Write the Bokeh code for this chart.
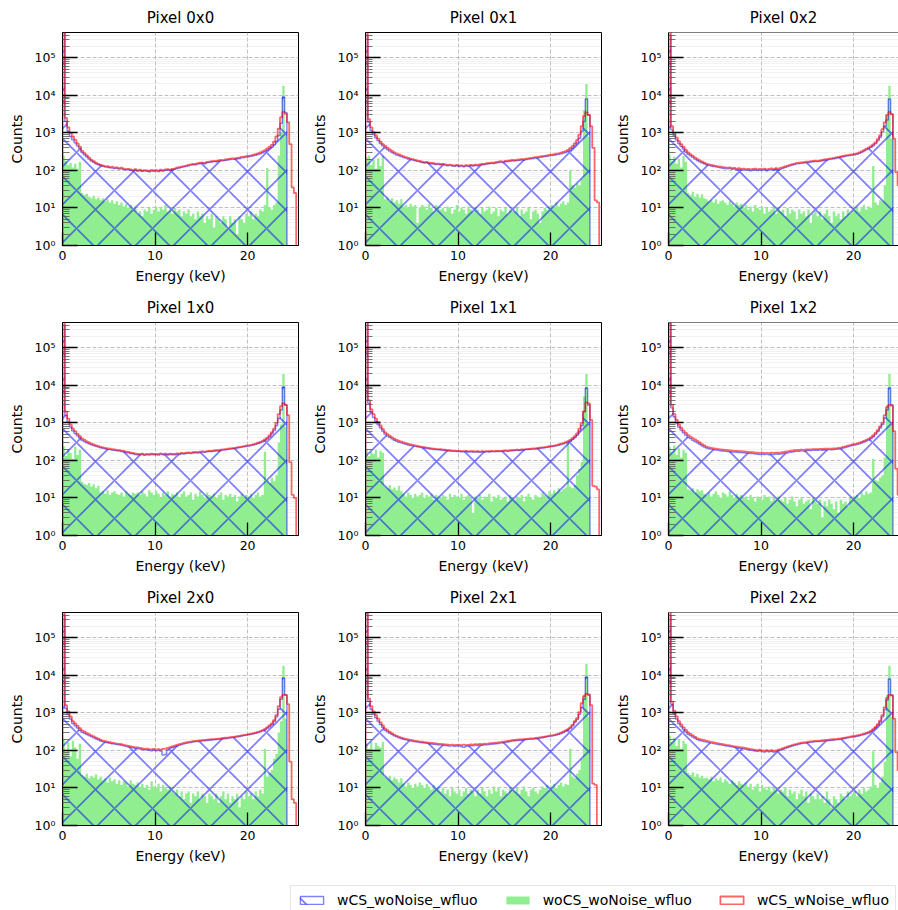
from bokeh.plotting import figure
from bokeh.layouts import column, row
from bokeh.models import (Range1d, FixedTicker, CustomJSTickFormatter, Legend,
                          LegendItem, Span)
from bokeh.embed import file_html
from bokeh.resources import INLINE

# ---------------- data (counts per 0.25 keV bin, starting at 0 keV) ----------------
BIN_KEV = 0.25
PIXELS = ["0x0", "0x1", "0x2", "1x0", "1x1", "1x2", "2x0", "2x1", "2x2"]
SERIES_LABELS = ["wCS_woNoise_wfluo", "woCS_woNoise_wfluo", "wCS_wNoise_wfluo"]
X_TICKS = [0, 10, 20]
Y_TICK_EXPONENTS = [0, 1, 2, 3, 4, 5]

# ---- Pixel 0x0
red_0x0 = [1000000, 2500, 1400, 1000, 800, 650, 520, 430,
           330, 290, 250, 220, 190, 175, 160, 150,
           140, 135, 128, 130, 122, 125, 118, 120, 115, 118, 112, 108, 110, 106, 102, 108,
           100, 104, 98, 102, 100, 97, 103, 100, 102, 99, 104, 101, 106, 108, 104, 110,
           112, 118, 122, 126, 130, 134, 140, 145, 150, 148, 155, 160, 162, 158, 168, 172,
           175, 180, 178, 185, 190, 188, 195, 200, 205, 210, 208, 215, 220, 228, 232, 238,
           245, 250, 262, 270, 285, 300, 320, 345, 380, 420, 480, 580, 800, 1300,
           2600, 3600, 3200, 1900, 500, 35, 25, 0]
blue_0x0 = [500000, 2000, 1100, 800, 650, 540, 450, 380,
            300, 260, 230, 200, 178, 165, 150, 142,
            135, 128, 124, 120, 118, 115, 112, 114, 108, 110, 105, 103, 104, 100, 98, 101,
            96, 98, 94, 97, 95, 92, 96, 94, 97, 93, 98, 96, 100, 102, 99, 104,
            107, 112, 116, 120, 124, 128, 133, 138, 142, 140, 147, 152, 155, 150, 160, 164,
            167, 171, 170, 176, 180, 179, 185, 190, 195, 199, 198, 204, 208, 215, 220, 225,
            230, 236, 245, 252, 265, 278, 295, 315, 345, 380, 420, 480, 600, 850,
            1800, 9000, 3500]
green_0x0 = [250, 180, 140, 160, 120, 150, 110, 170,
             25, 22, 24, 20, 18, 21, 17, 19,
             16, 18, 15, 17, 14, 16, 13, 15, 12, 14, 11, 13, 10, 12, 9, 11,
             7, 8, 6, 9, 8, 10, 7, 9, 11, 8, 10, 9, 12, 8, 9, 7,
             10, 8, 9, 6, 8, 7, 9, 6, 7, 5, 8, 6, 7, 4, 6, 5,
             7, 3, 6, 5, 4, 6, 5, 3, 6, 4, 5, 2, 6, 5, 4, 7,
             6, 8, 5, 7, 6, 9, 8, 12, 115, 10, 9, 12, 14, 250,
             1000, 18000, 900]

# ---- Pixel 0x1
red_0x1 = [800000, 2300, 1400, 1050, 850, 700, 580, 500,
           450, 400, 360, 330, 300, 280, 265, 250,
           235, 225, 215, 205, 198, 190, 182, 178, 170, 165, 168, 160, 158, 155, 150, 152,
           148, 150, 145, 140, 142, 138, 135, 140, 134, 136, 132, 138, 135, 140, 137, 142,
           140, 145, 148, 150, 155, 158, 162, 160, 166, 170, 175, 172, 178, 182, 185, 190,
           188, 192, 195, 200, 198, 205, 210, 215, 220, 225, 228, 235, 240, 245, 252, 258,
           262, 270, 278, 285, 295, 310, 325, 350, 390, 440, 520, 640, 900, 1500,
           2800, 3500, 3000, 1500, 400, 16, 14, 0]
blue_0x1 = [400000, 1900, 1150, 900, 740, 620, 520, 450,
            400, 360, 325, 300, 275, 258, 245, 232,
            220, 212, 202, 194, 188, 180, 174, 170, 162, 158, 160, 152, 150, 148, 143, 145,
            141, 143, 138, 133, 136, 131, 128, 133, 127, 130, 125, 131, 128, 133, 130, 135,
            133, 138, 141, 143, 148, 150, 154, 152, 158, 162, 166, 163, 169, 173, 176, 180,
            178, 182, 185, 190, 188, 194, 199, 204, 208, 213, 216, 222, 227, 232, 238, 243,
            247, 254, 261, 267, 276, 288, 300, 320, 350, 390, 450, 540, 720, 1100,
            2000, 8000, 3000]
green_0x1 = [220, 250, 140, 190, 110, 210, 130, 240,
             17, 19, 15, 18, 14, 16, 13, 17,
             11, 12, 10, 13, 11, 12, 4, 10, 12, 11, 9, 13, 10, 8, 12, 11,
             9, 10, 8, 11, 10, 7, 9, 12, 8, 10, 9, 7, 11, 9, 8, 10,
             9, 7, 10, 8, 9, 11, 7, 8, 10, 6, 9, 8, 10, 7, 9, 8,
             8, 10, 6, 9, 7, 8, 10, 5, 8, 9, 7, 4, 8, 10, 9, 11,
             12, 10, 14, 11, 13, 15, 12, 14, 100, 40, 35, 45, 40, 60,
             4000, 20000, 800]

# ---- Pixel 0x2
red_0x2 = [800000, 1500, 1000, 750, 600, 500, 420, 350,
           300, 270, 245, 220, 200, 185, 172, 160,
           150, 145, 140, 135, 132, 128, 125, 122, 120, 118, 121, 115, 117, 112, 114, 110,
           111, 108, 110, 106, 109, 112, 107, 110, 108, 112, 106, 110, 113, 109, 115, 112,
           116, 122, 128, 134, 140, 146, 152, 158, 160, 163, 166, 170, 172, 175, 178, 182,
           180, 185, 190, 195, 200, 205, 210, 215, 222, 230, 236, 242, 250, 256, 262, 268,
           275, 285, 300, 320, 345, 375, 405, 440, 490, 560, 680, 850, 1250, 1900,
           3000, 3600, 3100, 700, 90, 40, 30, 0]
blue_0x2 = [400000, 1200, 850, 650, 520, 440, 370, 310,
            270, 245, 222, 200, 184, 170, 160, 150,
            141, 136, 131, 127, 124, 120, 117, 114, 112, 110, 113, 107, 109, 104, 106, 102,
            103, 100, 102, 98, 101, 104, 99, 102, 100, 104, 98, 102, 105, 101, 107, 104,
            108, 114, 120, 126, 132, 138, 143, 149, 151, 154, 157, 161, 163, 166, 169, 173,
            171, 176, 181, 186, 190, 195, 200, 205, 211, 218, 224, 230, 237, 243, 249, 255,
            261, 270, 284, 302, 325, 352, 380, 410, 455, 515, 620, 760, 1050, 1500,
            2200, 8000, 3200]
green_0x2 = [260, 180, 230, 150, 200, 120, 240, 170,
             25, 22, 27, 20, 24, 19, 23, 18,
             17, 15, 16, 14, 17, 13, 15, 16, 14, 12, 15, 13, 11, 14, 12, 13,
             10, 12, 9, 11, 8, 12, 10, 9, 11, 7, 10, 8, 9, 11, 7, 10,
             8, 9, 6, 10, 7, 9, 8, 5, 9, 7, 8, 6, 9, 4, 7, 8,
             6, 8, 5, 7, 9, 6, 4, 8, 6, 7, 5, 8, 6, 9, 7, 8,
             9, 11, 8, 10, 12, 9, 11, 10, 130, 14, 12, 16, 15, 40,
             3000, 18000, 700]

# ---- Pixel 1x0
red_1x0 = [800000, 2000, 1300, 900, 700, 600, 510, 440,
           380, 350, 320, 300, 280, 265, 252, 240,
           230, 222, 215, 208, 204, 198, 195, 190, 188, 182, 178, 172, 168, 160, 158, 152,
           150, 148, 152, 145, 150, 147, 152, 148, 150, 146, 153, 149, 151, 147, 152, 150,
           150, 154, 152, 158, 156, 160, 163, 161, 165, 168, 166, 171, 174, 172, 177, 180,
           180, 184, 188, 186, 192, 196, 200, 204, 208, 212, 216, 222, 228, 234, 240, 246,
           250, 258, 268, 280, 295, 310, 330, 360, 400, 460, 560, 700, 1000, 1700,
           2800, 3300, 3000, 1600, 90, 12, 10, 0]
blue_1x0 = [400000, 1600, 1050, 770, 610, 520, 450, 395,
            345, 320, 295, 278, 262, 248, 237, 226,
            217, 210, 204, 197, 193, 188, 185, 180, 178, 172, 169, 163, 159, 152, 150, 144,
            142, 140, 144, 137, 142, 139, 144, 140, 142, 138, 145, 141, 143, 139, 144, 142,
            142, 146, 144, 150, 148, 152, 155, 153, 157, 160, 158, 163, 166, 164, 169, 172,
            172, 176, 180, 178, 184, 188, 192, 196, 200, 204, 208, 213, 219, 225, 231, 237,
            240, 247, 256, 267, 281, 295, 312, 338, 372, 425, 510, 630, 850, 1300,
            2200, 9000, 3000]
green_1x0 = [240, 130, 200, 160, 110, 230, 140, 190,
             27, 24, 22, 25, 20, 23, 18, 21,
             14, 15, 13, 16, 12, 14, 15, 13, 12, 14, 11, 15, 13, 12, 14, 13,
             14, 12, 15, 13, 11, 16, 14, 12, 15, 13, 10, 14, 12, 15, 11, 13,
             12, 14, 10, 13, 15, 11, 12, 14, 9, 13, 11, 15, 12, 10, 14, 12,
             11, 13, 10, 12, 14, 9, 12, 11, 13, 10, 12, 8, 11, 13, 10, 12,
             11, 13, 10, 12, 14, 11, 12, 170, 30, 25, 35, 28, 40, 300,
             900, 20000, 800]

# ---- Pixel 1x1
red_1x1 = [1000000, 4000, 2300, 1700, 1300, 1050, 850, 680,
           560, 500, 450, 410, 375, 350, 330, 315,
           300, 288, 275, 265, 258, 250, 242, 236, 230, 225, 220, 215, 210, 205, 202, 200,
           198, 194, 192, 188, 186, 183, 181, 179, 180, 177, 176, 178, 174, 176, 175, 173,
           175, 172, 176, 174, 177, 175, 178, 176, 179, 180, 178, 182, 184, 183, 186, 188,
           190, 192, 191, 195, 197, 200, 202, 205, 208, 210, 214, 218, 222, 226, 232, 238,
           242, 248, 256, 265, 278, 290, 305, 325, 350, 390, 440, 520, 700, 1000,
           2000, 3500, 3300, 1200, 21, 20, 17, 0]
blue_1x1 = [500000, 3300, 1900, 1400, 1100, 900, 740, 600,
            500, 450, 410, 375, 345, 322, 305, 292,
            280, 270, 258, 249, 243, 236, 229, 223, 218, 213, 209, 204, 200, 195, 193, 191,
            189, 185, 184, 180, 178, 175, 174, 172, 173, 170, 169, 171, 167, 169, 168, 166,
            168, 165, 169, 167, 170, 168, 171, 169, 172, 173, 171, 175, 177, 176, 179, 181,
            183, 185, 184, 188, 190, 193, 195, 198, 200, 202, 206, 210, 213, 217, 222, 228,
            232, 237, 244, 252, 264, 275, 288, 305, 327, 362, 405, 470, 610, 850,
            2000, 8500, 3000]
green_1x1 = [200, 130, 170, 150, 190, 120, 180, 160,
             20, 18, 22, 17, 19, 16, 21, 15,
             13, 11, 14, 12, 10, 13, 11, 12, 14, 10, 12, 11, 13, 9, 12, 11,
             10, 12, 11, 9, 13, 10, 12, 11, 10, 13, 9, 11, 12, 10, 4, 11,
             10, 12, 9, 11, 10, 13, 8, 11, 10, 12, 9, 10, 11, 8, 12, 10,
             9, 11, 10, 12, 8, 11, 13, 10, 9, 12, 11, 10, 14, 12, 11, 15,
             13, 16, 14, 18, 15, 17, 19, 300, 20, 18, 22, 40, 60, 90,
             5000, 20000, 900]

# ---- Pixel 1x2
red_1x2 = [900000, 3000, 1700, 1200, 900, 740, 620, 540,
           470, 430, 390, 360, 330, 300, 270, 250,
           230, 222, 215, 210, 205, 200, 196, 192, 190, 187, 184, 182, 180, 178, 176, 175,
           174, 171, 169, 166, 165, 162, 160, 158, 160, 157, 159, 156, 161, 158, 162, 160,
           162, 166, 170, 174, 178, 182, 186, 188, 190, 193, 191, 195, 197, 196, 199, 200,
           200, 202, 201, 204, 205, 207, 206, 209, 210, 214, 220, 228, 236, 246, 256, 265,
           272, 282, 295, 310, 330, 350, 375, 410, 460, 540, 640, 800, 1000, 1600,
           2600, 3000, 2900, 600, 60, 12, 10, 0]
blue_1x2 = [450000, 2500, 1450, 1000, 770, 640, 540, 470,
            415, 380, 345, 320, 295, 270, 245, 228,
            212, 205, 199, 194, 190, 185, 181, 178, 176, 173, 170, 168, 166, 164, 162, 161,
            160, 157, 155, 152, 151, 148, 146, 144, 146, 143, 145, 142, 147, 144, 148, 146,
            148, 152, 156, 160, 164, 168, 172, 174, 176, 179, 177, 181, 183, 182, 185, 186,
            186, 188, 187, 190, 191, 193, 192, 195, 196, 200, 205, 213, 221, 230, 240, 249,
            255, 264, 276, 290, 308, 327, 350, 382, 428, 500, 590, 730, 900, 1350,
            2200, 8500, 3000]
green_1x2 = [230, 170, 250, 140, 210, 120, 190, 160,
             17, 16, 18, 14, 17, 15, 16, 13,
             12, 14, 11, 13, 15, 12, 10, 14, 13, 11, 15, 12, 10, 13, 11, 12,
             10, 11, 9, 12, 10, 8, 11, 10, 9, 12, 10, 11, 8, 10, 9, 11,
             9, 8, 10, 7, 9, 11, 8, 6, 9, 10, 7, 8, 9, 5, 10, 8,
             7, 9, 3, 8, 6, 9, 7, 5, 8, 4, 9, 7, 8, 6, 10, 9,
             11, 12, 10, 14, 12, 15, 13, 14, 110, 30, 28, 35, 40, 120,
             3000, 20000, 900]

# ---- Pixel 2x0
red_2x0 = [800000, 1600, 1100, 800, 600, 520, 450, 390,
           340, 315, 290, 270, 250, 235, 220, 205,
           190, 182, 176, 170, 165, 160, 156, 152, 150, 146, 140, 136, 132, 128, 124, 120,
           120, 116, 113, 110, 112, 108, 106, 110, 105, 108, 104, 110, 112, 116, 122, 128,
           134, 140, 146, 152, 158, 164, 168, 172, 176, 180, 182, 185, 188, 190, 193, 196,
           198, 200, 203, 206, 210, 214, 217, 220, 224, 228, 233, 238, 244, 250, 257, 264,
           270, 278, 286, 296, 310, 325, 345, 370, 410, 460, 520, 640, 870, 1500,
           2600, 3000, 3000, 1700, 50, 5, 4, 0]
blue_2x0 = [400000, 1300, 900, 680, 520, 450, 395, 345,
            305, 285, 265, 248, 232, 218, 205, 192,
            178, 171, 165, 160, 155, 150, 147, 143, 141, 137, 132, 128, 124, 120, 117, 113,
            112, 109, 106, 103, 104, 100, 98, 102, 97, 100, 96, 75, 78, 104, 113, 119,
            125, 131, 137, 143, 149, 155, 159, 163, 167, 171, 173, 176, 179, 181, 184, 187,
            189, 191, 194, 197, 201, 205, 208, 211, 215, 219, 224, 229, 235, 241, 248, 255,
            260, 268, 276, 285, 298, 312, 330, 352, 388, 432, 485, 590, 780, 1250,
            2300, 8500, 3000]
green_2x0 = [200, 90, 160, 70, 180, 120, 60, 150,
             22, 20, 24, 18, 21, 19, 23, 17,
             20, 16, 18, 14, 19, 15, 17, 13, 16, 12, 15, 14, 11, 16, 13, 12,
             14, 11, 13, 10, 12, 9, 15, 11, 10, 13, 8, 12, 10, 9, 11, 8,
             7, 9, 6, 8, 5, 7, 8, 4, 7, 6, 8, 5, 7, 6, 4, 7,
             6, 5, 7, 4, 6, 8, 5, 7, 4, 6, 5, 7, 3, 6, 5, 8,
             6, 7, 5, 8, 6, 9, 7, 110, 20, 25, 30, 60, 80, 300,
             600, 18000, 700]

# ---- Pixel 2x1
red_2x1 = [900000, 2400, 1500, 1100, 870, 700, 560, 460,
           380, 345, 310, 285, 260, 245, 230, 220,
           210, 203, 196, 190, 185, 180, 176, 172, 170, 167, 164, 160, 158, 155, 153, 150,
           150, 147, 145, 143, 140, 142, 138, 141, 140, 137, 143, 139, 141, 144, 142, 146,
           145, 148, 147, 151, 150, 154, 156, 158, 160, 163, 166, 170, 174, 178, 183, 187,
           190, 192, 195, 197, 200, 203, 206, 208, 210, 214, 218, 223, 228, 234, 240, 246,
           250, 258, 268, 280, 295, 315, 340, 370, 410, 480, 600, 720, 1050, 1800,
           2800, 3200, 3100, 1600, 13, 12, 0, 0]
blue_2x1 = [450000, 2000, 1250, 920, 740, 600, 490, 410,
            345, 315, 285, 264, 243, 229, 216, 207,
            198, 191, 185, 179, 175, 170, 166, 162, 160, 157, 154, 150, 148, 145, 143, 140,
            140, 137, 135, 133, 130, 132, 128, 131, 130, 127, 120, 129, 131, 134, 132, 136,
            135, 138, 137, 141, 140, 144, 146, 148, 150, 153, 156, 160, 164, 168, 173, 177,
            180, 182, 185, 187, 190, 193, 196, 198, 200, 204, 208, 213, 218, 224, 230, 236,
            240, 248, 257, 268, 282, 300, 322, 350, 385, 450, 560, 660, 920, 1400,
            2300, 9000, 3000]
green_2x1 = [150, 110, 170, 100, 160, 130, 120, 170,
             20, 18, 21, 16, 19, 17, 14, 18,
             13, 11, 14, 12, 10, 13, 11, 14, 12, 10, 13, 11, 9, 12, 10, 11,
             8, 10, 7, 9, 6, 10, 8, 7, 9, 6, 8, 10, 7, 9, 8, 6,
             9, 7, 10, 8, 6, 9, 7, 11, 8, 10, 6, 9, 8, 7, 10, 9,
             8, 10, 7, 9, 11, 8, 6, 9, 10, 8, 7, 9, 11, 10, 12, 9,
             11, 13, 10, 12, 14, 11, 13, 12, 110, 20, 18, 24, 30, 60,
             3000, 20000, 800]

# ---- Pixel 2x2
red_2x2 = [800000, 2000, 1150, 800, 600, 490, 410, 350,
           300, 275, 250, 230, 210, 200, 192, 186,
           180, 174, 168, 163, 158, 154, 150, 146, 142, 139, 136, 132, 128, 125, 122, 120,
           118, 114, 112, 108, 106, 103, 101, 104, 100, 98, 102, 99, 101, 97, 100, 104,
           108, 114, 120, 126, 132, 138, 145, 150, 155, 160, 163, 166, 170, 173, 176, 180,
           180, 182, 185, 188, 190, 192, 195, 198, 200, 204, 208, 214, 220, 226, 232, 238,
           242, 250, 258, 268, 280, 292, 305, 330, 370, 420, 500, 620, 870, 1400,
           2500, 3000, 2900, 700, 90, 30, 0, 0]
blue_2x2 = [400000, 1700, 950, 680, 520, 430, 360, 310,
            270, 248, 228, 210, 193, 184, 177, 171,
            166, 161, 156, 151, 147, 143, 140, 136, 133, 130, 127, 124, 120, 117, 114, 112,
            110, 107, 105, 101, 99, 96, 94, 97, 93, 91, 95, 92, 94, 90, 93, 97,
            101, 107, 113, 119, 125, 131, 137, 142, 147, 151, 154, 157, 161, 164, 167, 171,
            171, 173, 176, 179, 181, 183, 186, 189, 191, 195, 199, 205, 210, 216, 222, 228,
            231, 239, 246, 255, 266, 278, 290, 312, 348, 395, 465, 570, 780, 1200,
            2200, 8000, 3000]
green_2x2 = [250, 170, 220, 130, 200, 110, 180, 150,
             25, 22, 26, 20, 24, 19, 21, 18,
             19, 17, 20, 15, 18, 16, 19, 14, 17, 15, 13, 16, 14, 12, 15, 13,
             12, 14, 10, 13, 9, 11, 13, 8, 12, 10, 9, 11, 8, 10, 9, 7,
             9, 8, 10, 6, 9, 7, 8, 5, 7, 9, 6, 8, 4, 7, 6, 5,
             7, 5, 6, 4, 8, 5, 3, 6, 5, 4, 7, 6, 5, 8, 6, 7,
             8, 6, 9, 7, 10, 8, 9, 11, 95, 12, 10, 14, 20, 50,
             3000, 18000, 800]

SERIES = {
    "0x0": (blue_0x0, green_0x0, red_0x0),
    "0x1": (blue_0x1, green_0x1, red_0x1),
    "0x2": (blue_0x2, green_0x2, red_0x2),
    "1x0": (blue_1x0, green_1x0, red_1x0),
    "1x1": (blue_1x1, green_1x1, red_1x1),
    "1x2": (blue_1x2, green_1x2, red_1x2),
    "2x0": (blue_2x0, green_2x0, red_2x0),
    "2x1": (blue_2x1, green_2x1, red_2x1),
    "2x2": (blue_2x2, green_2x2, red_2x2),
}

# ---------------- styling / layout ----------------
FONT = "DejaVu Sans"
Y_MIN, Y_MAX = 1, 4.7e5
FLOOR = 0.1          # below the visible range (log axis)
X_FULL = 25.5        # keV across a full frame of 236 px
BLUE = "blue"
GREEN = "#90ee90"
RED = "red"
HATCH = dict(hatch_pattern="x", hatch_color=BLUE, hatch_alpha=0.5,
             hatch_scale=38, hatch_weight=1.7)


def step_path(counts):
    xs, ys = [], []
    for i, c in enumerate(counts):
        v = c if c > 0 else FLOOR
        xs += [i * BIN_KEV, (i + 1) * BIN_KEV]
        ys += [v, v]
    return xs, ys


def outline(counts):
    xs, ys = step_path(counts)
    return [xs[0]] + xs + [xs[-1]], [FLOOR] + ys + [FLOOR]


yfmt_code = r"""
const sup = {"0":"\u2070","1":"\u00b9","2":"\u00b2","3":"\u00b3","4":"\u2074",
             "5":"\u2075","6":"\u2076","7":"\u2077","8":"\u2078","9":"\u2079","-":"\u207b"};
const e = Math.round(Math.log10(tick));
return "10" + String(e).split("").map(c => sup[c]).join("");
"""

major_y = [10 ** e for e in Y_TICK_EXPONENTS]
minor_y = [m * 10 ** e for e in Y_TICK_EXPONENTS for m in range(2, 10) if m * 10 ** e <= Y_MAX]


def make_panel(name, col):
    frame_w = 236 if col < 2 else 230
    width = 303 if col < 2 else 292
    xmax = X_FULL * frame_w / 236
    p = figure(width=width, height=290, output_backend="svg", toolbar_location=None,
               x_range=Range1d(0, xmax), y_range=Range1d(Y_MIN, Y_MAX), y_axis_type="log",
               min_border_left=62, min_border_right=width - 62 - frame_w,
               min_border_top=30, min_border_bottom=45, title=f"Pixel {name}")
    p.background_fill_color = "white"
    p.border_fill_color = "white"
    if col < 2:
        p.outline_line_color = "black"
        p.outline_line_width = 1
    else:
        p.outline_line_color = None
        p.add_layout(Span(location=Y_MAX, dimension="width", line_color="black", line_width=1))

    p.title.align = "center"
    p.title.text_font = FONT
    p.title.text_font_size = "15px"
    p.title.text_font_style = "normal"
    p.title.text_color = "black"
    p.title.standoff = 12

    blue, green, red = SERIES[name]

    gx, gy = step_path(green)
    p.varea(x=gx, y1=[FLOOR] * len(gx), y2=gy, fill_color=GREEN, fill_alpha=1.0)

    bx, by = step_path(blue)
    p.varea(x=bx, y1=[FLOOR] * len(bx), y2=by, fill_alpha=0.0, **HATCH)
    ox, oy = outline(blue)
    p.line(ox, oy, line_color=BLUE, line_alpha=0.5, line_width=1.4)

    rx, ry = outline(red)
    p.line(rx, ry, line_color=RED, line_alpha=0.6, line_width=1.8)

    xt = FixedTicker(ticks=X_TICKS, minor_ticks=[])
    yt = FixedTicker(ticks=major_y, minor_ticks=minor_y)
    p.xaxis.ticker = xt
    p.yaxis.ticker = yt
    p.xgrid.ticker = xt
    p.ygrid.ticker = yt
    p.yaxis.formatter = CustomJSTickFormatter(code=yfmt_code)

    for ax in (p.xaxis[0], p.yaxis[0]):
        ax.axis_line_color = "black"
        ax.axis_line_width = 1
        ax.major_tick_out = 0
        ax.minor_tick_out = 0
        ax.major_tick_line_color = "black"
        ax.major_tick_line_width = 1.3
        ax.major_label_text_font = FONT
        ax.major_label_text_font_size = "12.5px"
        ax.major_label_text_color = "black"
        ax.axis_label_text_font = FONT
        ax.axis_label_text_font_size = "14px"
        ax.axis_label_text_font_style = "normal"
        ax.axis_label_text_color = "black"
    p.xaxis.axis_label = "Energy (keV)"
    p.yaxis.axis_label = "Counts"
    p.xaxis.major_tick_in = 13
    p.xaxis.minor_tick_line_color = None
    p.xaxis.major_label_standoff = 5
    p.xaxis.axis_label_standoff = 5
    p.yaxis.major_tick_in = 15
    p.yaxis.minor_tick_in = 7
    p.yaxis.minor_tick_line_color = "#555555"
    p.yaxis.minor_tick_line_width = 0.8
    p.yaxis.major_label_standoff = 7
    p.yaxis.axis_label_standoff = 7

    for g in (p.xgrid[0], p.ygrid[0]):
        g.grid_line_color = "#b8b8b8"
        g.grid_line_dash = "4 2"
        g.grid_line_width = 0.9
    p.ygrid.minor_grid_line_color = "#dedede"
    p.ygrid.minor_grid_line_dash = "1 1"
    p.ygrid.minor_grid_line_width = 0.8
    return p


rows = []
for r in range(3):
    rows.append(row(*[make_panel(PIXELS[3 * r + c], c) for c in range(3)]))

# ---------------- legend strip ----------------
lf = figure(width=898, height=40, output_backend="svg", toolbar_location=None,
            x_range=Range1d(0, 1), y_range=Range1d(0, 1),
            x_axis_location=None, y_axis_location=None,
            min_border_left=0, min_border_right=0, min_border_top=0, min_border_bottom=0)
lf.grid.visible = False
lf.outline_line_color = None
lf.border_fill_color = "white"
# proxy renderers kept outside the visible range; they only feed the legend glyphs
OFF = dict(left=[5], right=[6], top=[6], bottom=[5])
r_blue = lf.quad(**OFF, fill_alpha=0.0, line_color=BLUE, line_alpha=0.5,
                 line_width=1.4, **HATCH)
r_green = lf.quad(**OFF, fill_color=GREEN, fill_alpha=1.0, line_color=None)
r_red = lf.quad(**OFF, fill_alpha=0.0, line_color=RED, line_alpha=0.6, line_width=1.8)
legend = Legend(items=[LegendItem(label=SERIES_LABELS[0], renderers=[r_blue]),
                       LegendItem(label=SERIES_LABELS[1], renderers=[r_green]),
                       LegendItem(label=SERIES_LABELS[2], renderers=[r_red])],
                orientation="horizontal", location=(290, -5),
                label_text_font=FONT, label_text_font_size="14px",
                label_text_color="black",
                glyph_width=29, glyph_height=10, label_height=16, label_standoff=11,
                spacing=25, padding=6, margin=0,
                border_line_color="#cccccc", border_line_width=1,
                background_fill_color="white", background_fill_alpha=1.0)
lf.add_layout(legend)

layout = column(*rows, lf)
open("out.html", "w").write(file_html(layout, INLINE))
